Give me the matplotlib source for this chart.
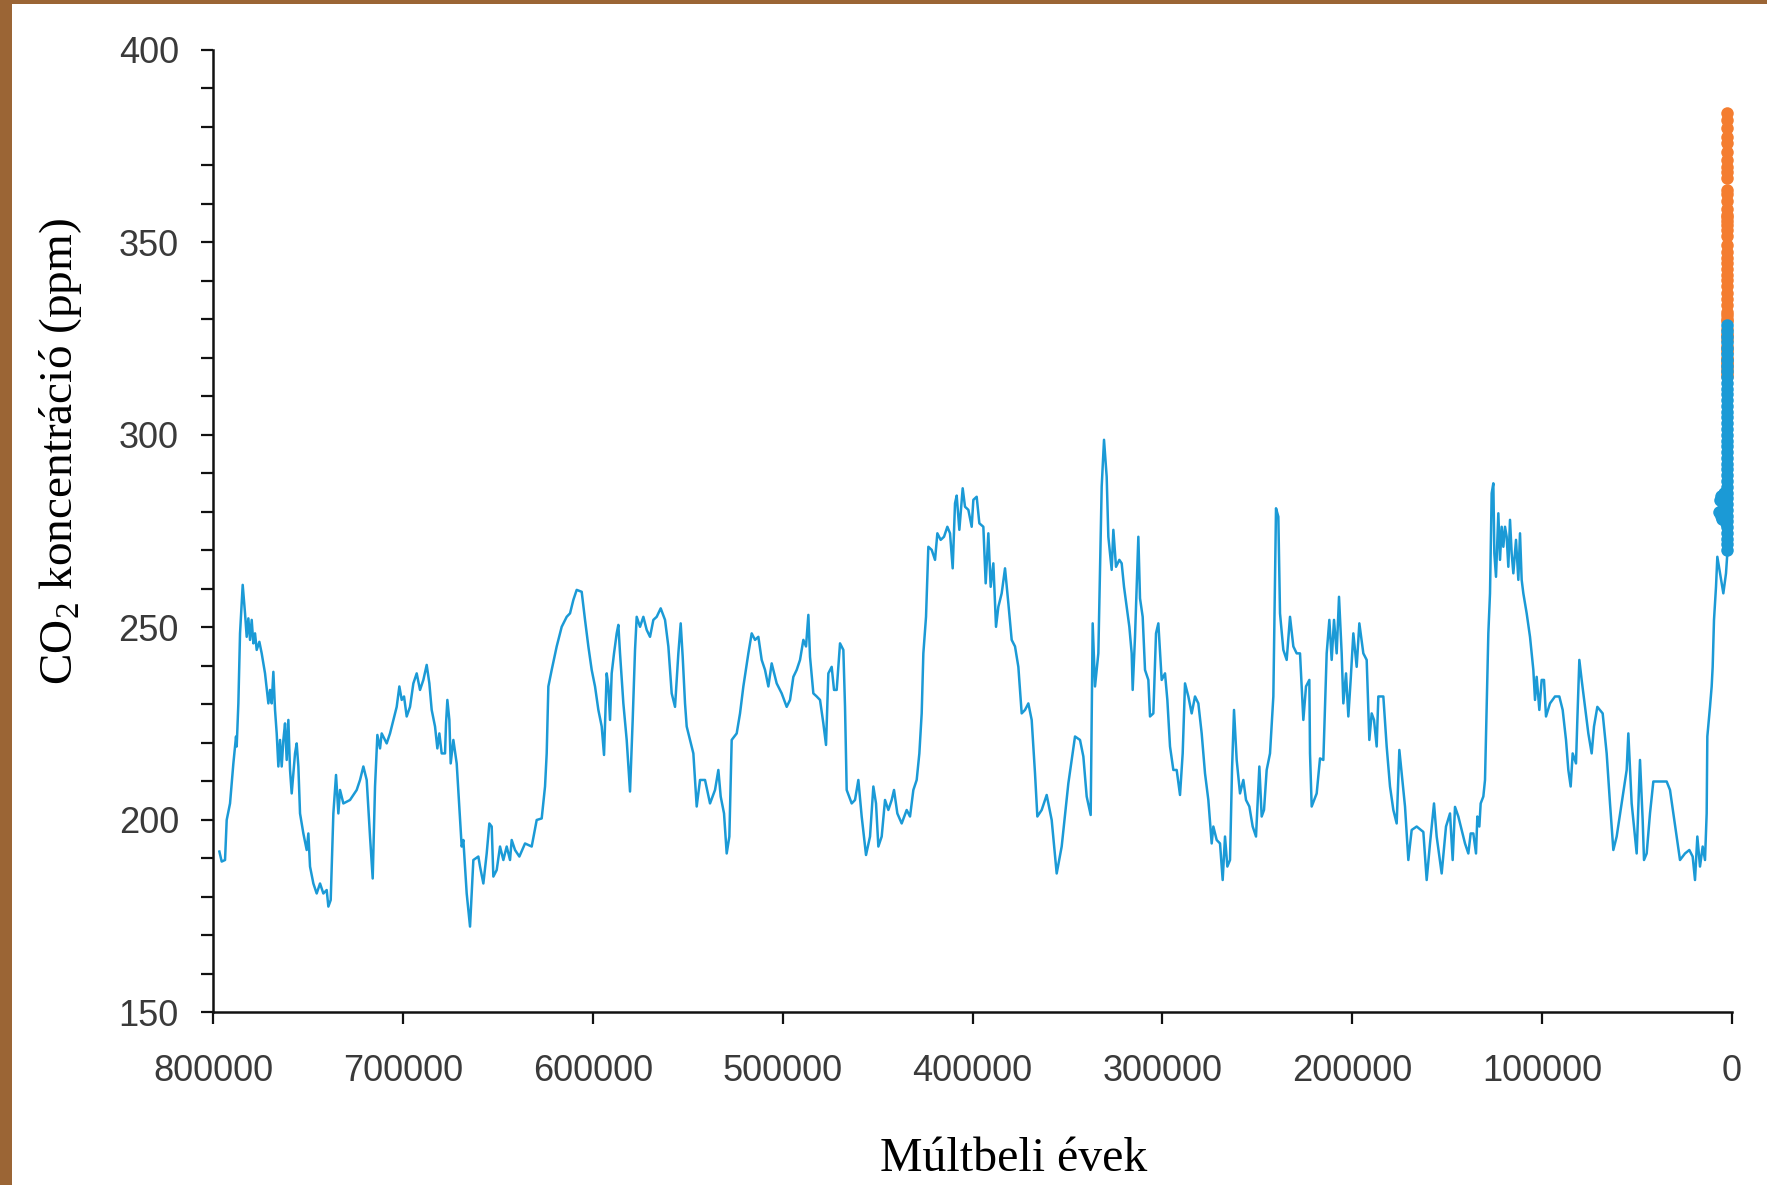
import matplotlib
matplotlib.use("Agg")
import matplotlib.pyplot as plt
from matplotlib.patches import Rectangle
from matplotlib.ticker import MultipleLocator, FuncFormatter

plt.rcParams['mathtext.fontset'] = 'custom'
plt.rcParams['mathtext.rm'] = 'Liberation Serif'

# ---- Data (years before present, CO2 ppm) ----
ice_years = [
    796648, 795419, 793664, 792786, 791031, 790153, 789275, 787871, 787520, 786642,
    785764, 784360, 783131, 782253, 781375, 780498, 779620, 778742, 777864, 776987,
    775582, 774354, 772598, 770843, 769965, 769087, 768209, 767331, 766454, 765576,
    764698, 763820, 762943, 762065, 761187, 760309, 759432, 758554, 757676, 756798,
    755921, 755043, 754165, 752410, 750654, 749777, 748899, 747143, 745388, 743632,
    741877, 740121, 739244, 738015, 736610, 735206, 733977, 733099, 731344, 727833,
    724322, 722566, 720811, 719055, 717300, 715895, 714666, 713437, 712033, 711155,
    708522, 706767, 705011, 703256, 701851, 700623, 699394, 697989, 696234, 694478,
    692723, 690967, 689212, 687456, 686052, 684823, 683068, 681839, 680780, 679556,
    677801, 677274, 676572, 675519, 674817, 673412, 671657, 669901, 669024, 668146,
    666390, 664635, 662879, 660246, 659368, 657613, 655857, 654453, 653224, 652346,
    650591, 648835, 647080, 645324, 643569, 642691, 640935, 638653,
    635666, 632155, 629522, 626889, 625133, 624256, 623378, 621622, 618989, 616356,
    613723, 611967, 610211, 608456, 605823, 604067, 602312, 600556, 598801, 597045,
    595290, 594061, 592657, 591779, 590901, 590023, 588795, 587390, 586512, 585635,
    583879, 582124, 580368, 578964, 577735, 576857, 575102, 573346, 571591, 569835,
    568080, 566324, 564218, 561936, 560180, 558424, 556669, 554913, 553685, 552631,
    551403, 550525, 548769, 547014, 545258, 543503, 540870, 538236, 535603, 533848,
    532619, 530863, 529459, 528055, 526826, 524193, 522437, 520681, 518048, 516293,
    514537, 512782, 511026, 509271, 507515, 505760, 503126, 500493, 497860, 496104,
    494349, 492593, 490838, 489082, 487678, 486449, 485571, 483816, 482060, 480305,
    478549, 477145, 475916,
    474161, 472932, 471528, 469772, 468017, 467139, 466261, 463628, 461873, 460117,
    458362, 456079, 453973, 452217, 450813, 449584, 447829, 446073, 444318, 442562,
    441334, 439578, 437296, 434662, 432907, 431151, 429396, 427991, 426762, 425885,
    424480, 423251, 421496, 419740, 418512, 416756, 415001, 413245, 411841, 410436,
    409207, 408330, 406925, 405170, 403941, 402186, 400430, 399552, 397797, 396392,
    394286, 393057, 391652, 390424, 389020, 387615, 386386, 384631, 382875, 381120,
    379364, 377609, 375853, 374098, 372342, 370587, 368831, 367076, 365847, 363565,
    360931, 358298, 355665, 353032, 349521, 347765, 346010, 343377, 341621, 339865,
    337759, 336706, 335477, 333722, 331966, 330737, 329333, 328455, 326700, 325822,
    324418, 322662, 321433, 320204, 318800, 317396, 316167, 315640, 314412, 312656,
    311777,
    310372, 309143, 307388, 306510, 304754, 303350, 302121, 300366, 298610, 297382,
    295977, 294222, 292466, 290711, 289306, 288078, 286322, 284567, 282811, 281056,
    279300, 277544, 275789, 274033, 273156, 271400, 269645, 268240, 267012, 265783,
    264378, 263325, 262272, 260867, 259112, 257356, 255952, 254196, 252441, 250685,
    248930, 247701, 246472, 245068, 243312, 241557, 240152, 238923, 238045, 236290,
    234534, 232779, 231023, 229268, 227512, 225757, 224353, 222597, 222246, 221368,
    218735, 216979, 215224, 213468, 212064, 210835, 209607, 208202, 206974, 205569,
    204691, 203287, 202058, 200829, 199425, 197669, 196265, 194158, 192403, 190999,
    189770, 188542, 187137, 186259, 183626, 181870, 180115, 178359, 176603, 175199,
    173970, 172215, 170459, 168704, 166070, 162559, 160804, 159048, 156942, 155538,
    152904, 150622, 148516,
    147111, 145882, 144127, 142371, 140616, 138860, 137631, 136227, 134823, 134120,
    133067, 132365, 130961, 130083, 129205, 128327, 127450, 126572, 125694, 125167,
    124290, 123061, 122183, 121305, 120428, 119550, 118672, 117794, 116917, 116039,
    115161, 113757, 112528, 111650, 110772, 109895, 108139, 106384, 104628, 103750,
    102873, 101468, 100240, 99011, 97958, 95851, 93218, 90936, 89180, 87425,
    86196, 84968, 83915, 82159, 81457, 80404, 79175, 77419, 75664, 73908,
    72680, 70924, 68115, 66007, 64252, 62496, 60741, 58107, 55474, 54596,
    52841, 50207, 48452, 47048, 46345, 44941, 43186, 41430, 34408, 32653,
    30897, 29142, 27386, 24753, 22471, 20715, 19486, 18258, 16853, 15449,
    14220, 13342, 12991, 11587, 10709, 10182, 9480, 8426, 7724, 6320,
    4564, 3160, 2458, 1054,
]
ice_ppm = [
    191.7, 189.1, 189.5, 199.9, 204.2, 209.4, 214.6, 221.6, 219.0, 230.2,
    248.4, 261.0, 253.6, 247.5, 252.3, 246.7, 251.9, 245.8, 248.4, 244.1,
    246.2, 243.2, 238.0, 230.2, 233.7, 230.2, 238.4, 228.5, 222.4, 213.8,
    220.7, 213.8, 220.7, 225.0, 215.5, 225.9, 212.9, 206.8, 212.0, 217.2,
    219.8, 213.8, 201.6, 196.4, 192.1, 196.4, 187.8, 183.4, 180.8, 183.4,
    180.8, 181.7, 177.4, 179.1, 201.6, 211.6, 201.6, 207.7, 204.2, 205.1,
    207.7, 210.3, 213.8, 210.3, 195.6, 184.7, 208.6, 222.0, 218.5, 222.4,
    219.8, 222.4, 225.9, 229.3, 234.6, 231.1, 232.0, 226.8, 229.3, 235.4,
    238.0, 233.7, 236.3, 240.2, 235.4, 228.5, 224.2, 218.5, 222.4, 217.2,
    217.2, 225.0, 231.1, 225.9, 214.6, 220.7, 214.6, 199.9, 193.0, 194.7,
    180.8, 172.2, 189.5, 190.4, 187.8, 183.4, 191.2, 199.0, 198.2, 185.2,
    186.9, 193.0, 189.5, 193.0, 189.5, 194.7, 192.1, 190.4,
    193.8, 193.0, 199.9, 200.3, 208.6, 217.2, 234.6, 238.9, 245.0, 250.1,
    252.7, 253.6, 257.1, 259.7, 259.2, 251.9, 245.0, 238.9, 234.6, 228.5,
    224.2, 216.8, 238.0, 234.6, 225.9, 238.0, 243.2, 248.4, 250.6, 243.2,
    230.2, 220.7, 207.3, 225.9, 244.1, 252.7, 250.1, 252.7, 249.3, 247.5,
    251.9, 252.7, 254.9, 251.9, 245.0, 232.8, 229.3, 243.2, 251.0, 242.3,
    230.2, 224.2, 220.7, 217.2, 203.4, 210.3, 210.3, 204.2, 207.7, 212.9,
    206.0, 201.6, 191.2, 195.6, 220.7, 222.4, 227.6, 234.6, 243.2, 248.4,
    246.7, 247.5, 241.5, 238.9, 234.6, 240.6, 235.4, 232.8, 229.3, 231.1,
    237.1, 238.9, 241.5, 246.7, 245.0, 253.2, 242.3, 232.8, 232.0, 231.1,
    225.0, 219.4, 238.0,
    239.7, 233.7, 233.7, 245.8, 244.1, 229.3, 207.7, 204.2, 205.1, 210.3,
    200.8, 190.8, 195.6, 208.6, 204.2, 193.0, 195.6, 205.1, 202.5, 205.1,
    207.7, 201.6, 199.0, 202.5, 200.8, 207.7, 210.3, 217.2, 227.6, 243.2,
    252.7, 270.9, 270.1, 267.5, 274.4, 272.7, 273.5, 276.1, 274.4, 265.3,
    282.2, 284.2, 275.3, 286.1, 281.3, 280.5, 276.1, 283.1, 283.9, 277.0,
    276.1, 261.4, 274.4, 260.5, 266.6, 250.1, 255.3, 258.8, 265.3, 256.2,
    246.7, 245.0, 239.7, 227.6, 228.5, 230.2, 225.9, 212.0, 200.8, 202.5,
    206.4, 199.9, 186.0, 193.0, 209.4, 215.5, 221.6, 220.7, 216.4, 206.0,
    201.2, 251.0, 234.6, 243.2, 286.5, 298.7, 289.1, 273.5, 264.9, 275.3,
    265.7, 267.5, 266.6, 260.5, 255.3, 250.1, 243.2, 233.7, 247.5, 273.5,
    257.5,
    252.7, 238.9, 236.3, 226.8, 227.6, 248.4, 251.0, 236.3, 238.0, 231.1,
    219.0, 212.9, 212.9, 206.4, 217.2, 235.4, 232.0, 227.6, 232.0, 230.2,
    222.4, 212.0, 205.1, 193.8, 198.2, 194.7, 193.8, 184.3, 195.6, 187.8,
    189.5, 212.9, 228.5, 215.5, 206.8, 210.3, 205.1, 203.4, 198.2, 195.6,
    213.8, 200.8, 202.5, 212.9, 217.2, 232.0, 280.9, 278.7, 253.6, 244.1,
    241.5, 252.7, 245.0, 243.2, 243.2, 225.9, 234.6, 236.3, 217.2, 203.4,
    206.8, 215.9, 215.5, 243.2, 251.9, 241.5, 251.9, 243.2, 257.9, 243.2,
    230.2, 238.0, 226.8, 236.3, 248.4, 239.7, 251.0, 243.2, 241.5, 220.7,
    227.6, 225.9, 219.0, 232.0, 232.0, 219.0, 208.6, 202.5, 199.0, 218.1,
    212.0, 203.4, 189.5, 197.3, 198.2, 196.8, 184.3, 193.8, 204.2, 195.6,
    186.0, 198.2, 201.6,
    189.5, 203.3, 200.8, 197.3, 193.8, 191.2, 196.4, 196.4, 191.2, 200.8,
    198.2, 204.2, 206.0, 210.3, 229.3, 248.4, 258.8, 284.8, 287.4, 269.2,
    263.1, 279.6, 267.5, 276.1, 270.9, 276.1, 273.5, 265.7, 277.9, 269.2,
    264.0, 272.7, 262.3, 274.4, 262.3, 258.8, 253.6, 247.5, 238.9, 231.1,
    237.1, 228.5, 236.3, 236.3, 226.8, 230.2, 232.0, 232.0, 228.5, 220.7,
    212.9, 208.6, 217.2, 214.6, 225.9, 241.5, 236.3, 229.3, 222.4, 217.2,
    224.2, 229.3, 227.6, 217.2, 204.2, 192.1, 195.6, 204.2, 212.9, 222.4,
    204.2, 191.2, 215.5, 199.9, 189.5, 191.2, 201.6, 209.9, 209.9, 207.7,
    201.6, 195.6, 189.5, 191.2, 192.1, 190.4, 184.3, 195.6, 187.8, 193.0,
    189.5, 201.6, 221.6, 229.3, 234.6, 239.7, 251.9, 260.5, 268.3, 264.0,
    258.8, 264.0, 269.2, 275.3,
]

# Recent ice-core values (blue markers) and atmospheric measurements (orange markers)
recent_ice_years = [6800, 6400, 6000, 5600, 5200, 4800, 4400, 4000, 3600, 3300, 3000,
                    2400, 2400, 2400, 2400, 2400, 2400, 2400, 2400, 2400, 2400,
                    2400, 2400, 2400, 2400, 2400, 2400, 2400, 2400, 2400, 2400,
                    2400, 2400, 2400, 2400, 2400, 2400, 2400, 2400, 2400, 2400,
                    2400, 2400, 2400, 2400, 2400, 2400, 2400, 2400, 2400, 2400]
recent_ice_ppm = [280, 283, 284, 279, 278, 281, 282, 285, 285, 280, 277,
                  270, 271.5, 273, 274.5, 276, 277.5, 279, 280.5, 282, 283.5,
                  285, 286.5, 288, 289.5, 291, 292.5, 294, 295.5, 297, 298.5,
                  300, 301.5, 303, 304.5, 306, 307.5, 309, 310.5, 312, 313.5,
                  315, 316.5, 318, 319.5, 321, 322.5, 324, 325.5, 327, 328.5]

atm_years = [2400] * 50
atm_ppm = [315.3, 316.0, 316.9, 317.6, 318.5, 319.0, 319.6, 320.0, 321.4, 322.2,
           323.0, 324.6, 325.7, 326.3, 327.5, 329.7, 330.2, 331.1, 332.0, 333.8,
           335.4, 336.8, 338.7, 340.1, 341.4, 343.0, 344.6, 346.0, 347.4, 349.2,
           351.6, 353.1, 354.4, 355.6, 356.5, 357.1, 358.8, 360.8, 362.6, 363.7,
           366.7, 368.4, 369.7, 371.3, 373.5, 375.8, 377.5, 379.8, 381.9, 383.5]

x_ticks = [800000, 700000, 600000, 500000, 400000, 300000, 200000, 100000, 0]
y_ticks = [150, 200, 250, 300, 350, 400]

BLUE = '#1b9ad6'
ORANGE = '#f47d30'
BROWN = '#9b6535'
TICKCOL = '#3a3a3a'

W, H = 1767, 1185
fig = plt.figure(figsize=(W / 100, H / 100), dpi=100)
fig.patch.set_facecolor('white')

ax = fig.add_axes([213 / W, 1 - 1012 / H, (1732 - 213) / W, (1012 - 50) / H])
ax.set_facecolor('white')

ax.plot(atm_years, atm_ppm, linestyle='none', marker='o', markersize=9,
        color=ORANGE, markeredgewidth=0, zorder=3, clip_on=False)
ax.plot(ice_years, ice_ppm, color=BLUE, linewidth=1.8, zorder=4)
ax.plot(recent_ice_years, recent_ice_ppm, linestyle='none', marker='o', markersize=9,
        color=BLUE, markeredgewidth=0, zorder=5, clip_on=False)

ax.set_xlim(800000, 0)
ax.set_ylim(150, 400)
ax.set_xticks(x_ticks)
ax.set_yticks(y_ticks)
ax.yaxis.set_minor_locator(MultipleLocator(10))
ax.xaxis.set_major_formatter(FuncFormatter(lambda v, p: f"{int(round(v))}"))

for s in ['top', 'right']:
    ax.spines[s].set_visible(False)
for s in ['left', 'bottom']:
    ax.spines[s].set_linewidth(1.8)
    ax.spines[s].set_color('#111111')

ax.tick_params(axis='both', which='both', direction='out', length=8.5, width=1.6,
               color='#111111')
ax.tick_params(axis='x', pad=22)
ax.tick_params(axis='y', which='major', pad=16)
for lab in ax.get_xticklabels() + ax.get_yticklabels():
    lab.set_fontfamily('Liberation Sans')
    lab.set_fontsize(26)
    lab.set_color(TICKCOL)

fig.text(61 / W, 1 - 452 / H, r'CO$_\mathregular{2}$ koncentráció (ppm)',
         rotation=90, ha='center', va='center', fontsize=34,
         fontfamily='Liberation Serif', color='black')
fig.text(1013.7 / W, 1 - 1170.7 / H, 'Múltbeli évek', ha='center', va='baseline',
         fontsize=34.5, fontfamily='Liberation Serif', color='black')

# brown frame on the left and top edges
fig.patches.append(Rectangle((0, 0), 11.5 / W, 1, transform=fig.transFigure,
                             facecolor=BROWN, edgecolor='none', zorder=10))
fig.patches.append(Rectangle((0, 1 - 4 / H), 1, 4 / H, transform=fig.transFigure,
                             facecolor=BROWN, edgecolor='none', zorder=10))

fig.savefig('out.png', dpi=100, facecolor='white')
